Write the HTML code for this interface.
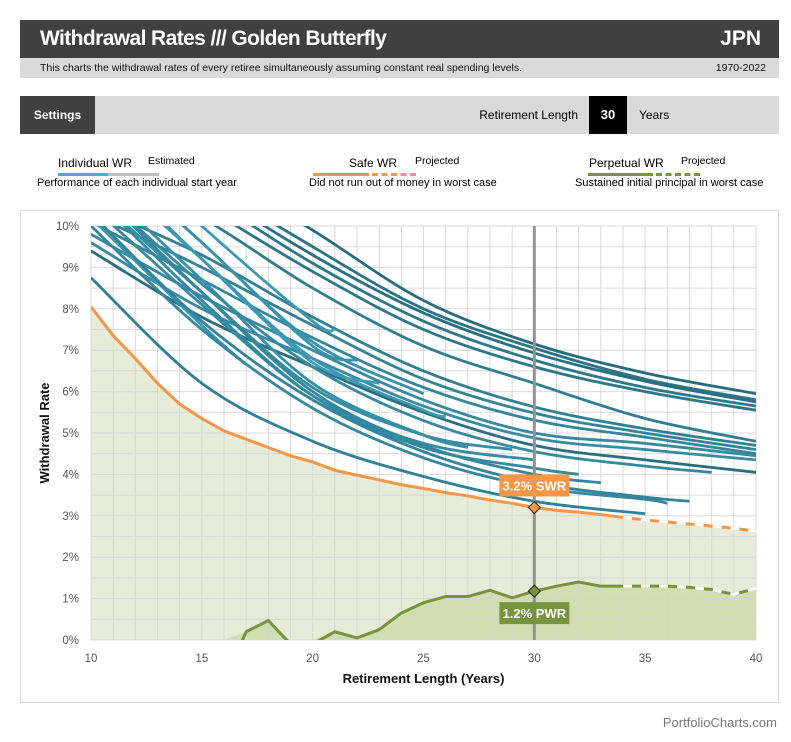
<!DOCTYPE html>
<html><head><meta charset="utf-8"><style>
body{margin:0;background:#fff;font-family:"Liberation Sans",sans-serif;}
#wrap{position:relative;width:791px;height:742px;overflow:hidden;}
.abs{position:absolute;}
</style></head><body>
<div id="wrap">
<div class="abs" style="left:20px;top:20px;width:759px;height:38px;background:#404040;"></div>
<div class="abs" style="left:40px;top:27px;color:#fff;font-size:21px;font-weight:bold;letter-spacing:-0.6px;">Withdrawal Rates /// Golden Butterfly</div>
<div class="abs" style="right:30px;top:27px;color:#fff;font-size:21px;font-weight:bold;">JPN</div>
<div class="abs" style="left:20px;top:58px;width:759px;height:20px;background:#d9d9d9;"></div>
<div class="abs" style="left:40px;top:62px;font-size:10.5px;color:#111;">This charts the withdrawal rates of every retiree simultaneously assuming constant real spending levels.</div>
<div class="abs" style="right:25px;top:62px;font-size:10.5px;color:#111;">1970-2022</div>
<div class="abs" style="left:20px;top:96px;width:759px;height:38px;background:#d9d9d9;"></div>
<div class="abs" style="left:20px;top:96px;width:75px;height:38px;background:#404040;color:#fff;font-size:12px;font-weight:bold;line-height:38px;text-align:center;">Settings</div>
<div class="abs" style="left:470px;top:96px;width:108px;line-height:38px;font-size:12px;text-align:right;">Retirement Length</div>
<div class="abs" style="left:589px;top:96px;width:38px;height:38px;background:#000;color:#fff;font-size:13px;font-weight:bold;line-height:38px;text-align:center;">30</div>
<div class="abs" style="left:639px;top:96px;line-height:38px;font-size:12px;">Years</div>

<div class="abs" style="left:30px;top:155px;width:210px;height:36px;font-size:11px;">
<span style="position:absolute;left:28px;top:1px;font-size:12px;">Individual WR</span><span style="position:absolute;left:118px;top:0;font-size:10.5px;">Estimated</span>
<div style="position:absolute;left:28px;top:18px;width:50px;height:3px;background:#4bacc6"></div><div style="position:absolute;left:78px;top:18px;width:51px;height:3px;background:#bfbfbf"></div>
<span style="position:absolute;left:7px;top:22px;">Performance of each individual start year</span></div>
<div class="abs" style="left:300px;top:155px;width:200px;height:36px;font-size:11px;">
<span style="position:absolute;left:49px;top:1px;font-size:12px;">Safe WR</span><span style="position:absolute;left:115px;top:0;font-size:10.5px;">Projected</span>
<div style="position:absolute;left:13px;top:18px;width:56px;height:3px;background:#f79646"></div><div style="position:absolute;left:72px;top:18px;width:44px;height:0;border-top:3px dashed #f79646"></div>
<span style="position:absolute;left:9px;top:22px;">Did not run out of money in worst case</span></div>
<div class="abs" style="left:570px;top:155px;width:200px;height:36px;font-size:11px;">
<span style="position:absolute;left:19px;top:1px;font-size:12px;">Perpetual WR</span><span style="position:absolute;left:111px;top:0;font-size:10.5px;">Projected</span>
<div style="position:absolute;left:18px;top:18px;width:65px;height:3px;background:#77933c"></div><div style="position:absolute;left:86px;top:18px;width:44px;height:0;border-top:3px dashed #77933c"></div>
<span style="position:absolute;left:5px;top:22px;">Sustained initial principal in worst case</span></div>

<svg class="abs" style="left:0;top:0" width="791" height="742" id="chart"></svg>
<div class="abs" style="right:14px;top:715px;font-size:13px;color:#777;">PortfolioCharts.com</div>
</div>
<script>
const xYears=[10,15,20,25,30,35,40];
const lines=[
[14,11.5,9.9,8.2,7.15,6.45,5.95],
[13.5,11.2,9.5,8.0,7.05,6.3,5.8],
[13,11,9.3,7.9,6.93,6.25,5.75],
[12.5,10.8,9.1,7.7,6.76,6.1,5.65],
[12,10.5,8.9,7.5,6.6,6.0,5.55],
[11.5,10.2,8.5,7.1,6.2,5.35,4.8],
[10.5,9.3,7.8,6.5,5.63,5.1,4.7],
[10.3,9.0,7.6,6.3,5.48,5.0,4.6],
[10.1,8.7,7.3,6.1,5.31,4.9,4.5],
[9.8,8.3,7.0,5.8,5.0,4.75,4.45],
[9.6,8.0,6.8,5.65,4.88,4.6,4.35],
[9.4,7.8,6.6,5.5,4.7,4.35,4.05],
[10.2,7.6],
[12.5,10,7.7],
[12,9.6,7.1],
[11.8,9.2,6.7],
[12,9.6,7.2,5.95],
[11.6,9.2,6.8,5.55],
[11.2,8.7,6.2,4.95],
[10.8,8.4,6.1,4.95],
[10.5,8.1,5.9,4.75],
[10.8,8.2,5.9,4.65,4.15],
[11,8.4,6.0,4.7,4.0],
[8.75,6.2,4.8,3.95,3.35,3.05],
[10,7.5,5.6,4.4,3.7,3.4],
[10.3,7.7,5.8,4.55,3.8,3.45],
[11,8.6,6.6,5.3,4.55,4.2]
];
const endYears=[40,40,40,40,40,40,40,40,40,40,40,40,17,21,22,23,25,26,27,29,30,32,33,35,36,37,38];
const endValues=[5.95,5.8,5.75,5.65,5.55,4.8,4.7,4.6,4.5,4.45,4.35,4.05,6.65,7.5,6.75,6.2,5.95,5.4,4.65,4.6,4.35,4.0,3.8,3.05,3.3,3.35,4.05];
const years=[10,11,12,13,14,15,16,17,18,19,20,21,22,23,24,25,26,27,28,29,30,31,32,33,34,35,36,37,38,39,40];
const swr=[8.05,7.35,6.8,6.2,5.7,5.35,5.05,4.85,4.65,4.45,4.3,4.1,3.98,3.87,3.75,3.66,3.56,3.48,3.38,3.3,3.2,3.13,3.09,3.03,2.96,2.9,2.85,2.8,2.75,2.7,2.63];
const pwr=[-2,-2,-2,-2,-2,-2,-1,0.2,0.47,-0.1,-0.1,0.2,0.05,0.25,0.65,0.9,1.05,1.05,1.2,1.02,1.18,1.3,1.4,1.3,1.3,1.3,1.3,1.27,1.22,1.1,1.25];
const projStart=34;
const yTicks=[0,1,2,3,4,5,6,7,8,9,10];
const xTicks=[10,15,20,25,30,35,40];
const selYear=30;

const NS="http://www.w3.org/2000/svg";
const svg=document.getElementById('chart');
const L=91,R=756,T=226,B=640;
const X=v=>L+(v-10)/30*(R-L);
const Y=v=>B-v/10*(B-T);
function mk(tag,attrs,parent){const e=document.createElementNS(NS,tag);for(const k in attrs)e.setAttribute(k,attrs[k]);(parent||svg).appendChild(e);return e;}

const panel=mk('rect',{x:20.5,y:210.5,width:758,height:492,fill:'#fff',stroke:'#d9d9d9'});


const defs=mk('defs',{});
const cp=mk('clipPath',{id:'clip'},defs);mk('rect',{x:L,y:T,width:R-L,height:B-T},cp);

let d='M'+X(10)+','+B;years.forEach((y,i)=>d+=' L'+X(y)+','+Y(swr[i]));d+=' L'+X(40)+','+B+'Z';
const swrFill=mk('path',{d:d,fill:'#e6ecd7','clip-path':'url(#clip)'});


d='M'+X(10)+','+B;years.forEach((y,i)=>d+=' L'+X(y)+','+Y(Math.max(0,pwr[i])));d+=' L'+X(40)+','+B+'Z';
const pwrFill=mk('path',{d:d,fill:'#d1deb2','clip-path':'url(#clip)'});



for(let v=0;v<=10;v+=0.5){const g=mk('line',{x1:L,x2:R,y1:Y(v),y2:Y(v),stroke:'#d4d4d4','stroke-width':1,'stroke-opacity':0.85});

}
for(let y=10;y<=40;y++){const g=mk('line',{x1:X(y),x2:X(y),y1:T,y2:B,stroke:'#d4d4d4','stroke-width':1,'stroke-opacity':0.85});

}

yTicks.forEach(v=>{const t=mk('text',{x:L-12,y:Y(v)+4,'text-anchor':'end','font-size':11.5,fill:'#595959'});t.textContent=v+'%';

});
xTicks.forEach(v=>{const t=mk('text',{x:X(v),y:B+22,'text-anchor':'middle','font-size':11.5,fill:'#595959'});t.textContent=v;

});
const xt=mk('text',{x:(L+R)/2,y:683,'text-anchor':'middle','font-size':13,'font-weight':'bold',fill:'#111'});xt.textContent='Retirement Length (Years)';


const yt=mk('text',{x:0,y:0,transform:'translate(49,'+((T+B)/2)+') rotate(-90)','text-anchor':'middle','font-size':13,'font-weight':'bold',fill:'#111'});yt.textContent='Withdrawal Rate';



function smooth(pts){let s='M'+pts[0][0]+','+pts[0][1];for(let i=0;i<pts.length-1;i++){const p0=pts[i-1]||pts[i],p1=pts[i],p2=pts[i+1],p3=pts[i+2]||p2;
s+=' C'+(p1[0]+(p2[0]-p0[0])/6)+','+(p1[1]+(p2[1]-p0[1])/6)+' '+(p2[0]-(p3[0]-p1[0])/6)+','+(p2[1]-(p3[1]-p1[1])/6)+' '+p2[0]+','+p2[1];}return s;}
const colors=['#256d7e','#2a7487','#287084','#2c788c','#2b7689','#2e7e92','#307f95','#318398','#33879c','#3589a0','#368ca3','#296f80'];
const lightColors=['#3a96b0','#3a9ab5','#3894ae','#3b9bb6','#3792ac','#3a98b2','#3690a9','#358da6','#348ba3','#3389a1','#32879f','#2f8199','#3387a0','#31849c','#3589a1'];
lines.forEach((vals,i)=>{const pts=[];vals.forEach((v,j)=>{if(xYears[j]<endYears[i])pts.push([X(xYears[j]),Y(v)]);});pts.push([X(endYears[i]),Y(endValues[i])]);
const col=i<12?colors[i]:lightColors[i-12];
const p=mk('path',{d:smooth(pts),fill:'none',stroke:col,'stroke-width':2.8,'clip-path':'url(#clip)'});

});

function poly(arr,from,to){let s='';for(let i=0;i<years.length;i++){if(years[i]<from||years[i]>to)continue;s+=(s?' L':'M')+X(years[i])+','+Y(arr[i]);}return s;}
const sw=mk('path',{d:poly(swr,10,projStart),fill:'none',stroke:'#f79646','stroke-width':3,'clip-path':'url(#clip)'});


const swp=mk('path',{d:poly(swr,projStart,40),fill:'none',stroke:'#f79646','stroke-width':3,'clip-path':'url(#clip)'});


mk('path',{d:poly(swr,projStart,40),fill:'none',stroke:'#fff','stroke-width':3,'stroke-dasharray':'9 9','clip-path':'url(#clip)'});
const pw=mk('path',{d:poly(pwr,10,projStart),fill:'none',stroke:'#77933c','stroke-width':3,'clip-path':'url(#clip)'});


const pwp=mk('path',{d:poly(pwr,projStart,40),fill:'none',stroke:'#77933c','stroke-width':3,'clip-path':'url(#clip)'});


mk('path',{d:poly(pwr,projStart,40),fill:'none',stroke:'#fff','stroke-width':3,'stroke-dasharray':'9 9','clip-path':'url(#clip)'});

const si=years.indexOf(selYear);
const sl=mk('line',{x1:X(selYear),x2:X(selYear),y1:T,y2:B,stroke:'#939393','stroke-width':3});


function diamond(v,fill,name){const cx=X(selYear),cy=Y(v);const p=mk('path',{d:`M${cx},${cy-6} L${cx+6},${cy} L${cx},${cy+6} L${cx-6},${cy}Z`,fill:fill,stroke:'#222','stroke-width':1});

}
diamond(swr[si],'#f79646','swr-marker');
diamond(pwr[si],'#77933c','pwr-marker');
function label(txt,v,dy,fill,name){const cx=X(selYear),cy=Y(v)+dy;const g=mk('g',{});


mk('rect',{x:cx-35,y:cy-11,width:70,height:22,fill:fill},g);const t=mk('text',{x:cx,y:cy+5,'text-anchor':'middle','font-size':13,'font-weight':'bold',fill:'#fff'},g);t.textContent=txt;}
label(swr[si].toFixed(1)+'% SWR',swr[si],-22,'#f79646','swr-label');
label(pwr[si].toFixed(1)+'% PWR',pwr[si],22,'#77933c','pwr-label');
</script>
</body></html>
